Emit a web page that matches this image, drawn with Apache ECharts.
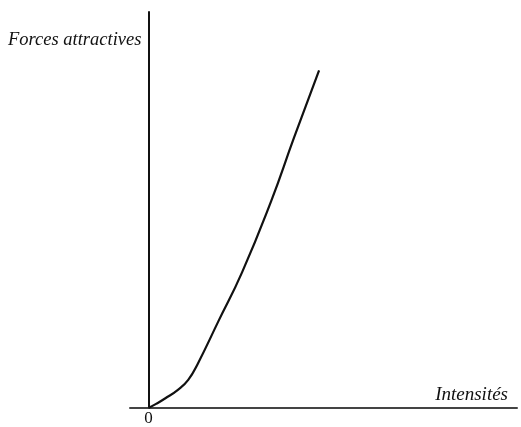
<!DOCTYPE html>
<html>
<head>
<meta charset="utf-8" />
<script src="https://cdn.jsdelivr.net/npm/echarts@6/dist/echarts.min.js"></script>
<style>
  html, body { margin: 0; padding: 0; background: #fff; }
  #courbe { width: 521px; height: 427px; }
</style>
</head>
<body>
<div id="courbe"></div>
<script>
// intensités (x) et forces attractives (y)
const intensites = [0, 2.2, 4.5, 8.0, 10.8, 13.4, 18.9, 25.4, 33.3, 39.5, 46.3];
const forces = [0, 1.1, 2.4, 4.6, 7.1, 11.2, 21.75, 34.25, 52.25, 68.25, 85.25];
const nomX = "Intensités";
const nomY = "Forces attractives";

const points = intensites.map((v, i) => [v, forces[i]]);

const chart = echarts.init(document.getElementById("courbe"));
chart.setOption({
  animation: false,
  grid: {
    left: 130,
    right: 4,
    top: 12,
    bottom: 15,
  },
  xAxis: {
    type: "value",
    min: -5,
    max: 100,
    interval: 5,
    name: nomX,
    nameLocation: "end",
    nameGap: -9,
    nameTextStyle: {
      fontFamily: "Liberation Serif",
      fontStyle: "italic",
      fontSize: 19,
      color: "#111",
      align: "right",
      verticalAlign: "bottom",
      padding: [0, 0, 4, 0],
    },
    axisLine: { lineStyle: { color: "#444", width: 2 } },
    axisTick: { show: false },
    splitLine: { show: false },
    axisLabel: {
      margin: 2,
      fontFamily: "Liberation Serif",
      fontSize: 17,
      color: "#111",
      formatter: (v) => (v === 0 ? "0" : ""),
    },
  },
  yAxis: {
    type: "value",
    min: 0,
    max: 100,
    name: nomY,
    nameLocation: "end",
    nameGap: -38,
    nameTextStyle: {
      fontFamily: "Liberation Serif",
      fontStyle: "italic",
      fontSize: 18.5,
      color: "#111",
      align: "right",
      padding: [0, 7, 0, 0],
    },
    axisLine: { show: true, onZero: true, lineStyle: { color: "#111", width: 2 } },
    axisTick: { show: false },
    axisLabel: { show: false },
    splitLine: { show: false },
  },
  series: [
    {
      type: "line",
      data: points,
      smooth: 0.5,
      showSymbol: false,
      lineStyle: { color: "#111", width: 2.2 },
    },
  ],
});
</script>
</body>
</html>
